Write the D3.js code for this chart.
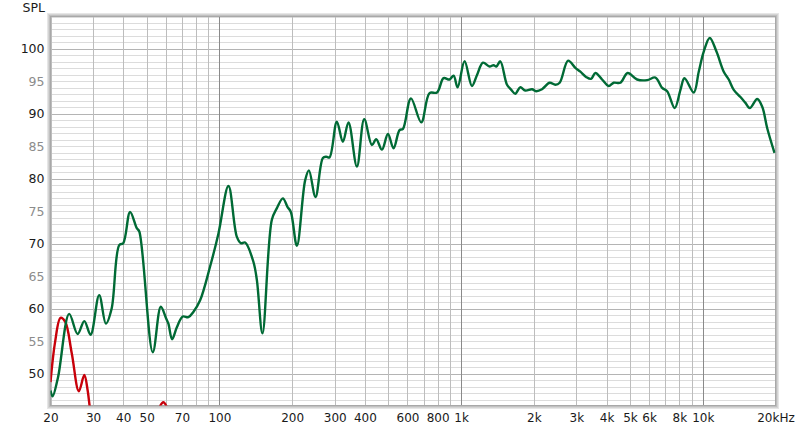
<!DOCTYPE html>
<html><head><meta charset="utf-8">
<script src="https://cdn.jsdelivr.net/npm/d3@7"></script>
<style>body{margin:0;background:#fff;}svg{display:block;font-family:"DejaVu Sans",sans-serif;}</style>
</head><body>
<svg id="c" width="800" height="428"></svg>
<script>
// Frequency (Hz) / SPL (dB) readings
const greenFreq = [20.0,20.4,21.5,23.9,25.9,27.6,29.3,31.8,33.9,35.8,38.5,40.0,42.7,45.5,46.6,53.0,57.2,60.2,61.5,63.7,66.6,70.5,74.4,78.0,83.2,91.5,99.1,109,118,122.7,127.8,138.3,142.9,150.7,164.8,172.9,183,191.2,197.5,209.2,226.4,234.6,249.8,268,276.6,285.4,306.2,324.2,342,370.6,397.4,427.6,445.4,470.4,498.2,525.4,556.4,574.8,620.2,684.2,740.6,794.8,846.4,896.2,931.2,967.4,1034,1109,1164,1232,1312,1363,1399,1453,1549,1614,1676,1758,1844,1966,2042,2162,2326,2455,2558,2772,2970,3116,3290,3450,3596,3832,4080,4280,4562,4890,5350,5884,6370,6792,7124,7656,8086,8402,9178,9626,10096,10690,11396,12216,12812,13438,14322,15022,15652,16804,17624,18484,19812];
const greenSPL = [47.4,46.5,49.5,59.2,56.1,58.1,56.0,62.1,57.7,60.0,69.8,70.1,74.9,72.4,71.9,53.3,60.3,58.5,57.7,55.3,57.1,58.8,58.7,59.5,61.3,66.5,71.6,78.9,71.1,70.1,70.2,67.2,64.4,56.2,73.7,75.5,77.0,75.7,74.9,69.7,79.8,81.3,77.2,83.2,83.4,83.3,88.8,85.7,88.7,81.9,89.2,85.2,86.1,84.5,86.9,84.7,87.5,87.7,92.4,88.7,93.2,93.3,95.5,95.3,95.9,94.1,98.1,94.3,96.0,97.9,97.3,97.5,97.3,98.1,94.5,93.7,93.1,94.1,93.6,93.8,93.5,93.8,94.8,94.5,94.8,98.2,97.1,96.5,95.7,95.4,96.3,95.3,94.3,94.8,94.8,96.3,95.3,95.2,95.6,94.0,93.5,90.9,93.7,95.5,93.3,96.5,99.6,101.7,99.6,96.5,95.3,93.7,92.6,91.7,90.9,92.3,91.1,87.8,84.0];
const redFreq = [20.0,20.9,22.0,23.0,24.5,26.2,27.6,28.5,29.1,30.6,42.7,55.2,58.6,61.9,69.0];
const redSPL  = [48.7,54.9,58.6,58.0,53.1,47.3,49.8,47.4,44.8,40.0,30.0,44.0,45.6,44.0,35.0];
const xTickValues = [20,30,40,50,70,100,200,300,400,600,800,1000,2000,3000,4000,5000,6000,8000,10000,20000];
const xTickLabels = ["20","30","40","50","70","100","200","300","400","600","800","1k","2k","3k","4k","5k","6k","8k","10k","20kHz"];
const yTickValues = [50,55,60,65,70,75,80,85,90,95,100];
const yLabel = "SPL";

const svg = d3.select("#c");
const L = 50.5, R = 775.5, T = 16.5, B = 405.5;
const x = d3.scaleLog().domain([20,20000]).range([L, R]);
const y = d3.scaleLinear().domain([45.1,105]).range([B, T]);

svg.append("defs").append("clipPath").attr("id","clip")
  .append("rect").attr("x",L).attr("y",T).attr("width",R-L).attr("height",B-T);

// shadow / frame
[[3,"#e6e6e6"],[2,"#d4d4d4"],[1,"#c0c0c0"]].forEach(([o,c])=>{
  svg.append("rect").attr("x",L-o).attr("y",T-o).attr("width",R-L+2*o).attr("height",B-T+2*o)
    .attr("fill","none").attr("stroke",c).attr("stroke-width",1);
});
svg.append("rect").attr("x",L).attr("y",T).attr("width",R-L).attr("height",B-T).attr("fill","#fff");

// horizontal grid
const g = svg.append("g");
d3.range(46,106).forEach(v=>{
  g.append("line").attr("x1",L).attr("x2",R).attr("y1",Math.round(y(v))+0.5).attr("y2",Math.round(y(v))+0.5)
   .attr("stroke", v%10===0 ? "#b4b4b4" : "#dcdcdc").attr("stroke-width",1);
});
// vertical grid
const vgrid = [];
[10,100,1000,10000].forEach(d=>{for(let k=1;k<10;k++){const f=d*k; if(f>=20&&f<=20000) vgrid.push(f);}});
vgrid.push(20000);
vgrid.forEach(f=>{
  const dec = (f===100||f===1000||f===10000);
  g.append("line").attr("x1",Math.round(x(f))+0.5).attr("x2",Math.round(x(f))+0.5).attr("y1",T).attr("y2",B)
   .attr("stroke", dec ? "#8a8a8a" : "#bdbdbd").attr("stroke-width",1);
});

// frame inner line
svg.append("rect").attr("x",L).attr("y",T).attr("width",R-L).attr("height",B-T)
  .attr("fill","none").attr("stroke","#a8a8a8").attr("stroke-width",1);

// axes labels
const xAxis = d3.axisBottom(x).tickValues(xTickValues).tickFormat((d,i)=>xTickLabels[i]).tickSize(0).tickPadding(0);
const xa = svg.append("g").attr("transform",`translate(0,${B})`).call(xAxis);
xa.select(".domain").remove();
xa.selectAll("text").attr("y",16).attr("dy",0).attr("fill","#1a1a1a").style("font-size","12px").style("font-family","DejaVu Sans");

const yAxis = d3.axisLeft(y).tickValues(yTickValues).tickFormat(d3.format("d")).tickSize(0).tickPadding(6);
const ya = svg.append("g").attr("transform",`translate(${L},0)`).call(yAxis);
ya.select(".domain").remove();
ya.selectAll("text").attr("fill",d=>d%10===0?"#1a1a1a":"#8c8c8c").style("font-size","12.5px").style("font-family","DejaVu Sans");

svg.append("text").attr("x",45).attr("y",12).attr("text-anchor","end").attr("fill","#1a1a1a")
  .style("font-size","12.5px").text(yLabel);

// curves
const line = d3.line().x(d=>x(d[0])).y(d=>y(d[1])).curve(d3.curveCatmullRom.alpha(0.5));
const cg = svg.append("g").attr("clip-path","url(#clip)");
cg.append("path").datum(redFreq.map((f,i)=>[f,redSPL[i]])).attr("d",line)
  .attr("fill","none").attr("stroke","#c8000a").attr("stroke-width",2.4).attr("stroke-linejoin","round");
cg.append("path").datum(greenFreq.map((f,i)=>[f,greenSPL[i]])).attr("d",line)
  .attr("fill","none").attr("stroke","#006a35").attr("stroke-width",2.4).attr("stroke-linejoin","round");
</script>
</body></html>
